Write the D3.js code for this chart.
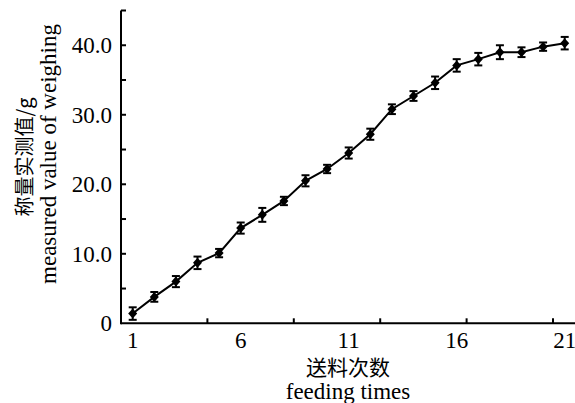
<!DOCTYPE html>
<html>
<head>
<meta charset="utf-8">
<script src="https://cdn.jsdelivr.net/npm/d3@7"></script>
<style>
  body { margin: 0; background: #fff; }
  svg text { font-family: "Liberation Serif", "Times New Roman", serif; fill: #000; }
  svg text.cjk { font-family: "Noto Sans CJK SC", sans-serif; }
</style>
</head>
<body>
<div id="chart"></div>
<script>
// data
const feeding = d3.range(1, 22);
const weight = [1.4, 3.8, 6.0, 8.7, 10.1, 13.7, 15.6, 17.6, 20.5, 22.2, 24.5,
                27.2, 30.8, 32.7, 34.6, 37.1, 38.0, 39.0, 39.0, 39.8, 40.3];
const errors = [0.9, 0.7, 0.8, 0.9, 0.6, 0.8, 1.0, 0.6, 0.8, 0.6, 0.8,
                0.8, 0.7, 0.7, 0.9, 0.9, 0.9, 1.0, 0.7, 0.6, 0.9];
const xTickLabels = [1, 6, 11, 16, 21];
const yTickLabels = [0, 10, 20, 30, 40];

const W = 575, H = 403;
const axisX = 121, axisRight = 575;
const serif = "'Liberation Serif', 'Times New Roman', serif";

const svg = d3.select("#chart").append("svg")
    .attr("width", W).attr("height", H);

const x = d3.scaleLinear().domain([1, 21]).range([132.7, 564.7]);
const y = d3.scaleLinear().domain([0, 45]).range([323.3, 10.5]);
const y0 = y(0);

// x axis: line, labels without ticks, tick marks every 4 units from origin
const xStart = x.invert(axisX);
const xMarks = d3.range(1, 6).map(k => xStart + 4 * k);

const gx = svg.append("g").attr("transform", `translate(0,${y0})`);
gx.append("line")
    .attr("x1", axisX).attr("x2", axisRight)
    .attr("stroke", "#000").attr("stroke-width", 2);
gx.selectAll(".xm").data(xMarks).enter().append("line")
    .attr("x1", d => x(d)).attr("x2", d => x(d))
    .attr("y1", 0).attr("y2", -5)
    .attr("stroke", "#000").attr("stroke-width", 2);
gx.selectAll(".xl").data(xTickLabels).enter().append("text")
    .attr("x", d => x(d)).attr("y", 25)
    .attr("text-anchor", "middle")
    .style("font-family", serif).style("font-size", "23px")
    .text(d => d);

// y axis
const gy = svg.append("g").attr("transform", `translate(${axisX},0)`);
gy.append("line")
    .attr("y1", y(45)).attr("y2", y0 + 1)
    .attr("stroke", "#000").attr("stroke-width", 2);
gy.selectAll(".ym").data(d3.range(5, 50, 5)).enter().append("line")
    .attr("x1", 0).attr("x2", 5)
    .attr("y1", d => y(d)).attr("y2", d => y(d))
    .attr("stroke", "#000").attr("stroke-width", 2);
gy.selectAll(".yl").data(yTickLabels).enter().append("text")
    .attr("x", -9).attr("y", d => y(d)).attr("dy", "0.35em")
    .attr("text-anchor", "end")
    .style("font-family", serif).style("font-size", "23px")
    .text(d => d === 0 ? "0" : d3.format(".1f")(d));

// axis titles
svg.append("text").attr("class", "cjk")
    .attr("x", 348).attr("y", 375)
    .attr("text-anchor", "middle").style("font-size", "21px")
    .text("送料次数");
svg.append("text")
    .attr("x", 348).attr("y", 399)
    .attr("text-anchor", "middle")
    .style("font-family", serif).style("font-size", "23px")
    .text("feeding times");

svg.append("text").attr("class", "cjk")
    .attr("transform", "translate(32,157) rotate(-90)")
    .attr("text-anchor", "middle").style("font-size", "20px")
    .text("称量实测值/g");
svg.append("text")
    .attr("transform", "translate(56,154) rotate(-90)")
    .attr("text-anchor", "middle")
    .style("font-family", serif).style("font-size", "23px")
    .text("measured value of weighing");

// series
const data = feeding.map((f, i) => ({ f: f, v: weight[i], e: errors[i] }));

svg.append("path").datum(data)
    .attr("fill", "none").attr("stroke", "#000").attr("stroke-width", 2)
    .attr("d", d3.line().x(d => x(d.f)).y(d => y(d.v)));

const bars = svg.selectAll(".err").data(data).enter().append("g")
    .attr("stroke", "#000").attr("stroke-width", 2);
bars.append("line")
    .attr("x1", d => x(d.f)).attr("x2", d => x(d.f))
    .attr("y1", d => y(d.v - d.e)).attr("y2", d => y(d.v + d.e));
bars.append("line")
    .attr("x1", d => x(d.f) - 4).attr("x2", d => x(d.f) + 4)
    .attr("y1", d => y(d.v + d.e)).attr("y2", d => y(d.v + d.e));
bars.append("line")
    .attr("x1", d => x(d.f) - 4).attr("x2", d => x(d.f) + 4)
    .attr("y1", d => y(d.v - d.e)).attr("y2", d => y(d.v - d.e));

svg.selectAll(".pt").data(data).enter().append("path")
    .attr("transform", d => `translate(${x(d.f)},${y(d.v)})`)
    .attr("d", "M0,-5L4.5,0L0,5L-4.5,0Z")
    .attr("fill", "#000");
</script>
</body>
</html>
